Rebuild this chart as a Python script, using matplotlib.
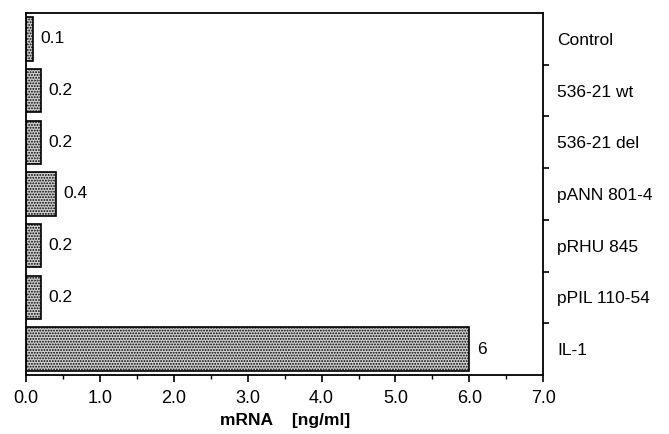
import numpy as np
import matplotlib.pyplot as plt
from matplotlib.ticker import MultipleLocator

plt.rcParams['font.family'] = ['Liberation Sans', 'DejaVu Sans']
plt.rcParams['hatch.color'] = '#5a5a5a'
plt.rcParams['hatch.linewidth'] = 0.9

categories = ["Control", "536-21 wt", "536-21 del", "pANN 801-4",
              "pRHU 845", "pPIL 110-54", "IL-1"]
values = [0.1, 0.2, 0.2, 0.4, 0.2, 0.2, 6]
value_labels = ["0.1", "0.2", "0.2", "0.4", "0.2", "0.2", "6"]

fig = plt.figure(figsize=(6.69, 4.34), dpi=100)
ax = fig.add_axes([0.039, 0.136, 0.773, 0.834])

y = np.arange(len(categories))
ax.barh(y, values, height=0.84, color='#cfcfcf', edgecolor='black',
        linewidth=1.2, hatch='......')

for yi, v, lab in zip(y, values, value_labels):
    ax.text(v + 0.1, yi, lab, va='center', ha='left', fontsize=12.5)

ax.set_xlim(0, 7)
ax.set_ylim(len(categories) - 0.5, -0.5)
ax.set_xticks(np.arange(0, 8), [f"{t:.1f}" for t in range(8)], fontsize=13)
ax.xaxis.set_minor_locator(MultipleLocator(0.5))
ax.tick_params(axis='x', which='major', direction='out', length=5, width=1.2, pad=6)
ax.tick_params(axis='x', which='minor', direction='out', length=3, width=1)

# category labels on the right, ticks at boundaries
ax.yaxis.tick_right()
ax.set_yticks(y, categories, fontsize=12.5)
ax.tick_params(axis='y', which='major', length=0, pad=10)
ax.set_yticks(np.arange(len(categories) - 1) + 0.5, minor=True)
ax.tick_params(axis='y', which='minor', direction='out', length=4, width=1.2)

for s in ax.spines.values():
    s.set_linewidth(1.3)

ax.set_xlabel("mRNA    [ng/ml]", fontsize=12.5, fontweight='bold', labelpad=4)

fig.savefig("out.png", dpi=100)
